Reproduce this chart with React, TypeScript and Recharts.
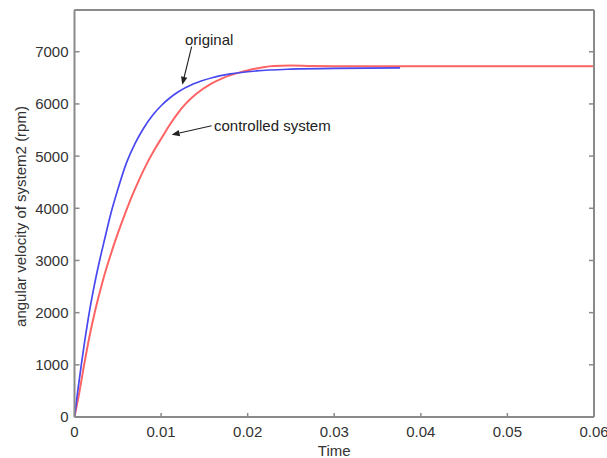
import React from 'react';
import { LineChart, Line, XAxis, YAxis, ReferenceLine, ReferenceDot, Label } from 'recharts';

// Step response of system 2: time (s) vs angular velocity (rpm)
const timeOriginal = [0, 0.0004, 0.0008, 0.0012, 0.0016, 0.0022, 0.0029, 0.0035, 0.0042, 0.005, 0.006, 0.007, 0.008, 0.009, 0.01, 0.011, 0.012, 0.0137, 0.016, 0.018, 0.021, 0.025, 0.03, 0.0376];
const speedOriginal = [0, 530, 1020, 1480, 1900, 2450, 3000, 3420, 3900, 4360, 4870, 5245, 5540, 5777, 5965, 6113, 6232, 6380, 6507, 6575, 6632, 6667, 6683, 6689];

const timeControlled = [0, 0.0005, 0.0011, 0.0017, 0.0024, 0.0032, 0.0041, 0.0049, 0.0058, 0.0066, 0.0075, 0.0084, 0.0093, 0.0102, 0.011, 0.0119, 0.0128, 0.014, 0.0157, 0.0172, 0.0188, 0.0203, 0.0218, 0.023, 0.025, 0.027, 0.03, 0.035, 0.04, 0.05, 0.06];
const speedControlled = [0, 420, 990, 1520, 2050, 2570, 3070, 3470, 3880, 4220, 4560, 4870, 5140, 5385, 5600, 5815, 5995, 6185, 6380, 6500, 6590, 6655, 6705, 6728, 6735, 6728, 6722, 6720, 6720, 6720, 6720];

const xTicks = [0, 0.01, 0.02, 0.03, 0.04, 0.05, 0.06];
const xTickLabels = ['0', '0.01', '0.02', '0.03', '0.04', '0.05', '0.06'];
const yTicks = [0, 1000, 2000, 3000, 4000, 5000, 6000, 7000];

const xDomain: [number, number] = [0, 0.06];
const yDomain: [number, number] = [0, 7800];

// Callouts: text anchor, arrow tail and arrow tip, in data units
const annotations = [
  { text: 'original', textT: 0.01276, textV: 7135, fromT: 0.01353, fromV: 7100, toT: 0.01245, toV: 6367 },
  { text: 'controlled system', textT: 0.01611, textV: 5485, fromT: 0.01584, fromV: 5581, toT: 0.01122, toV: 5408 },
];

const originalData = timeOriginal.map((t, i) => ({ t, v: speedOriginal[i] }));
const controlledData = timeControlled.map((t, i) => ({ t, v: speedControlled[i] }));

const FONT = '"Liberation Sans", Arial, Helvetica, sans-serif';
const TEXT = '#333';
const AXIS = '#8a8a8a';

const BottomTick = (props: any) => {
  const { x, y, payload } = props;
  const idx = xTicks.indexOf(payload.value);
  const label = idx >= 0 ? xTickLabels[idx] : String(payload.value);
  return (
    <g>
      <line x1={x} y1={y} x2={x} y2={y - 4} stroke={AXIS} strokeWidth={1.5} />
      <text x={x} y={y + 19.5} textAnchor="middle" fontSize={15} fontFamily={FONT} fill={TEXT}>{label}</text>
    </g>
  );
};

const TopTick = (props: any) => {
  const { x, y } = props;
  return <line x1={x} y1={y} x2={x} y2={y + 4} stroke={AXIS} strokeWidth={1.5} />;
};

const LeftTick = (props: any) => {
  const { x, y, payload } = props;
  return (
    <g>
      <line x1={x} y1={y} x2={x + 5} y2={y} stroke={AXIS} strokeWidth={1.5} />
      <text x={x - 6} y={y + 5.4} textAnchor="end" fontSize={15} fontFamily={FONT} fill={TEXT}>{payload.value}</text>
    </g>
  );
};

const RightTick = (props: any) => {
  const { x, y } = props;
  return <line x1={x} y1={y} x2={x - 5} y2={y} stroke={AXIS} strokeWidth={1.5} />;
};

const Arrow = (props: any) => {
  const { x1, y1, x2, y2 } = props;
  if (x1 == null || x2 == null) return null;
  const ang = Math.atan2(y2 - y1, x2 - x1);
  const len = 8;
  const half = 3.2;
  const bx = x2 - len * Math.cos(ang);
  const by = y2 - len * Math.sin(ang);
  const px = -Math.sin(ang) * half;
  const py = Math.cos(ang) * half;
  return (
    <g>
      <line x1={x1} y1={y1} x2={bx} y2={by} stroke="#222" strokeWidth={1.1} />
      <polygon points={`${x2},${y2} ${bx + px},${by + py} ${bx - px},${by - py}`} fill="#222" />
    </g>
  );
};

const XTitle = (props: any) => {
  const vb = props.viewBox || { x: 74.5, y: 417, width: 519.5, height: 41 };
  return (
    <text x={vb.x + vb.width / 2} y={vb.y + vb.height - 2} textAnchor="middle" fontSize={15} fontFamily={FONT} fill={TEXT}>
      Time
    </text>
  );
};

const YTitle = (props: any) => {
  const vb = props.viewBox || { x: 0, y: 10, width: 74.5, height: 407 };
  const cx = vb.x + 25.5;
  const cy = vb.y + vb.height / 2 + 3;
  return (
    <text x={cx} y={cy} transform={`rotate(-90 ${cx} ${cy})`} textAnchor="middle" fontSize={15} fontFamily={FONT} fill={TEXT}>
      angular velocity of system2 (rpm)
    </text>
  );
};

export default function App() {
  return (
    <div style={{ position: 'absolute', left: 0, top: 0, width: 607, height: 458, background: '#fff', fontFamily: FONT }}>
      <LineChart width={607} height={458} margin={{ top: 9, right: 12, bottom: 0, left: 0 }}>
        <XAxis
          xAxisId={0}
          dataKey="t"
          type="number"
          domain={xDomain}
          ticks={xTicks}
          allowDataOverflow
          height={41}
          tickSize={0}
          tickMargin={0}
          tickLine={false}
          axisLine={{ stroke: AXIS, strokeWidth: 2 }}
          tick={<BottomTick />}
          interval={0}
        >
          <Label content={<XTitle />} />
        </XAxis>
        <XAxis
          xAxisId="top"
          orientation="top"
          type="number"
          domain={xDomain}
          ticks={xTicks}
          allowDataOverflow
          height={1}
          tickSize={0}
          tickMargin={0}
          tickLine={false}
          axisLine={{ stroke: AXIS, strokeWidth: 2 }}
          tick={<TopTick />}
          interval={0}
        />
        <YAxis
          yAxisId={0}
          type="number"
          domain={yDomain}
          ticks={yTicks}
          allowDataOverflow
          width={74.5}
          tickSize={0}
          tickMargin={0}
          tickLine={false}
          axisLine={{ stroke: AXIS, strokeWidth: 2 }}
          tick={<LeftTick />}
          interval={0}
        >
          <Label content={<YTitle />} />
        </YAxis>
        <YAxis
          yAxisId="right"
          orientation="right"
          type="number"
          domain={yDomain}
          ticks={yTicks}
          allowDataOverflow
          width={1}
          tickSize={0}
          tickMargin={0}
          tickLine={false}
          axisLine={{ stroke: AXIS, strokeWidth: 2 }}
          tick={<RightTick />}
          interval={0}
        />
        {/* plot frame along the top and right edges */}
        <ReferenceLine y={yDomain[1]} stroke={AXIS} strokeWidth={2} ifOverflow="visible" />
        <ReferenceLine x={xDomain[1]} stroke={AXIS} strokeWidth={2} ifOverflow="visible" />
        <Line
          data={controlledData}
          dataKey="v"
          type="monotone"
          stroke="#ff6464"
          strokeWidth={2}
          dot={false}
          activeDot={false}
          isAnimationActive={false}
        />
        <Line
          data={originalData}
          dataKey="v"
          type="monotone"
          stroke="#4848f0"
          strokeWidth={1.7}
          dot={false}
          activeDot={false}
          isAnimationActive={false}
        />
        {annotations.map((a) => (
          <ReferenceLine
            key={`arrow-${a.text}`}
            segment={[{ x: a.fromT, y: a.fromV }, { x: a.toT, y: a.toV }]}
            shape={<Arrow />}
            ifOverflow="visible"
          />
        ))}
        {annotations.map((a) => (
          <ReferenceDot
            key={`text-${a.text}`}
            x={a.textT}
            y={a.textV}
            r={0}
            ifOverflow="visible"
            shape={(p: any) => (
              <text x={p.cx} y={p.cy} fontSize={15} fontFamily={FONT} fill="#222">{a.text}</text>
            )}
          />
        ))}
      </LineChart>
    </div>
  );
}
